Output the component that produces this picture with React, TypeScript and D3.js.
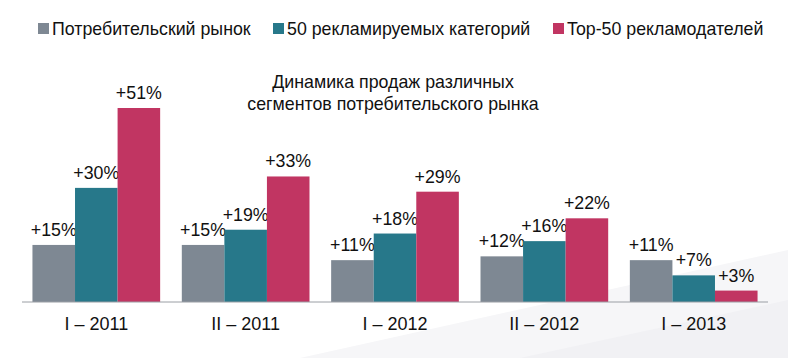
import React from "react";
import * as d3 from "d3";

const categories = ["I – 2011", "II – 2011", "I – 2012", "II – 2012", "I – 2013"];
const seriesNames = ["Потребительский рынок", "50 рекламируемых категорий", "Top-50 рекламодателей"];
const consumer = [15, 15, 11, 12, 11];
const advCategories = [30, 19, 18, 16, 7];
const top50 = [51, 33, 29, 22, 3];
const colors = ["#7e8893", "#27788a", "#c13562"];
const titleLines = ["Динамика продаж различных", "сегментов потребительского рынка"];

const W = 788;
const H = 358;

export default function App() {
  const series = [consumer, advCategories, top50];
  const x0 = d3.scaleBand<string>().domain(categories).range([22, 768]).paddingInner(0.145).paddingOuter(0.07);
  const x1 = d3.scaleBand<number>().domain([0, 1, 2]).range([0, x0.bandwidth()]).padding(0);
  const y = d3.scaleLinear().domain([0, 51]).range([302, 108]);
  const font = "'Liberation Sans', Arial, sans-serif";
  const legendX = [38, 273, 553];

  return (
    <div style={{ position: "absolute", left: 0, top: 0 }}>
      <svg width={W} height={H} style={{ display: "block", fontFamily: font }}>
        <rect width={W} height={H} fill="#ffffff" />
        <polygon points={`300,358 788,250 788,358`} fill="#f6f6f8" />
        <polygon points={`520,358 788,300 788,358`} fill="#f1f1f4" />
        {seriesNames.map((name, i) => (
          <g key={name}>
            <rect x={legendX[i]} y={23} width={11} height={11} fill={colors[i]} />
            <text x={legendX[i] + 14} y={35} fontSize={17.8} fill="#111">{name}</text>
          </g>
        ))}
        {titleLines.map((t, i) => (
          <text key={i} x={393} y={88 + i * 22} textAnchor="middle" fontSize={17.8} fill="#111">{t}</text>
        ))}
        {categories.map((c, ci) => (
          <g key={c} transform={`translate(${x0(c)},0)`}>
            {series.map((s, si) => {
              const bx = x1(si)!;
              const bw = x1.bandwidth();
              const v = s[ci];
              return (
                <g key={si}>
                  <rect x={bx} y={y(v)} width={bw} height={y(0) - y(v)} fill={colors[si]} />
                  <text x={bx + bw / 2} y={y(v) - 9} textAnchor="middle" fontSize={17.8} fill="#111">{`+${v}%`}</text>
                </g>
              );
            })}
            <text x={x0.bandwidth() / 2} y={330} textAnchor="middle" fontSize={18} fill="#111">{c}</text>
          </g>
        ))}
        <line x1={22} x2={768} y1={y(0)} y2={y(0)} stroke="#9a9ea4" strokeWidth={1} />
      </svg>
    </div>
  );
}
